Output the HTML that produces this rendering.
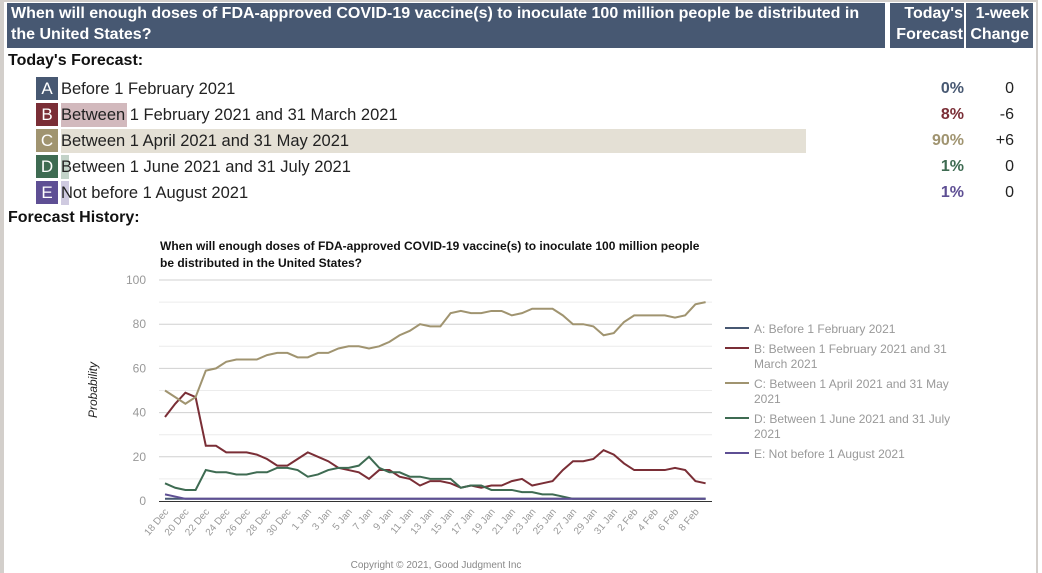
<!DOCTYPE html>
<html><head><meta charset="utf-8"><style>
body{margin:0;width:1042px;height:573px;overflow:hidden;background:#fff;font-family:"Liberation Sans",sans-serif;position:relative}
.abs{position:absolute}
.hdr{background:#475872;color:#fff;font-weight:bold;font-size:16px;line-height:21px}
.row{position:absolute;left:36px;height:24px;width:1000px}
.let{position:absolute;left:0;top:0;width:22px;height:23px;color:#fff;font-size:17px;text-align:center;line-height:23px}
.bar{position:absolute;left:25px;top:0;height:24px}
.lab{position:absolute;left:25px;top:0;font-size:16.5px;line-height:24px;color:#222;white-space:nowrap}
.pct{position:absolute;left:856px;width:72px;text-align:right;font-weight:bold;font-size:16px;line-height:24px}
.chg{position:absolute;left:940px;width:38px;text-align:right;font-size:16px;line-height:24px;color:#222}
</style></head><body>
<div class="abs" style="left:0;top:0;width:4px;height:573px;background:#d3cfcb"></div>
<div class="abs" style="left:1036px;top:0;width:2px;height:573px;background:#d3cfcb"></div>
<div class="abs" style="left:4px;top:0;width:1032px;height:2px;background:#d3cfcb"></div>
<div class="abs hdr" style="left:7px;top:3px;width:874px;height:45px;padding-left:4px">When will enough doses of FDA-approved COVID-19 vaccine(s) to inoculate 100 million people be distributed in the United States?</div>
<div class="abs hdr" style="left:890px;top:3px;width:74px;height:45px;text-align:right;padding-right:1px;box-sizing:border-box">Today's Forecast</div>
<div class="abs hdr" style="left:966px;top:3px;width:67px;height:45px;text-align:right;padding-right:4px;box-sizing:border-box">1-week Change</div>
<div class="abs" style="left:8px;top:52px;font-weight:bold;font-size:16px;color:#111">Today's Forecast:</div>

<div class="row" style="top:77px"><div class="let" style="background:#475872">A</div><div class="lab">Before 1 February 2021</div><div class="pct" style="color:#475872">0%</div><div class="chg">0</div></div>
<div class="row" style="top:103px"><div class="let" style="background:#7a2e36">B</div><div class="bar" style="width:66px;background:#d2b9bd"></div><div class="lab">Between 1 February 2021 and 31 March 2021</div><div class="pct" style="color:#7a2e36">8%</div><div class="chg">-6</div></div>
<div class="row" style="top:129px"><div class="let" style="background:#a09470">C</div><div class="bar" style="width:745px;background:#e4e0d5"></div><div class="lab">Between 1 April 2021 and 31 May 2021</div><div class="pct" style="color:#a09470">90%</div><div class="chg">+6</div></div>
<div class="row" style="top:155px"><div class="let" style="background:#3e6b52">D</div><div class="bar" style="width:8px;background:#c3d3c9"></div><div class="lab">Between 1 June 2021 and 31 July 2021</div><div class="pct" style="color:#3e6b52">1%</div><div class="chg">0</div></div>
<div class="row" style="top:181px"><div class="let" style="background:#5e4f94">E</div><div class="bar" style="width:8px;background:#cfcae0"></div><div class="lab">Not before 1 August 2021</div><div class="pct" style="color:#5e4f94">1%</div><div class="chg">0</div></div>

<div class="abs" style="left:8px;top:209px;font-weight:bold;font-size:16px;color:#111">Forecast History:</div>

<svg class="abs" style="left:0;top:0" width="1042" height="573" id="chart" font-family="Liberation Sans, Arial, sans-serif">
<text x="160" y="250" font-size="12" font-weight="bold" fill="#111">When will enough doses of FDA-approved COVID-19 vaccine(s) to inoculate 100 million people</text>
<text x="160" y="267" font-size="12" font-weight="bold" fill="#111">be distributed in the United States?</text>
<text transform="translate(97,390) rotate(-90)" text-anchor="middle" font-size="12" font-style="italic" fill="#222">Probability</text>
<text x="436" y="568" text-anchor="middle" font-size="10" fill="#888">Copyright © 2021, Good Judgment Inc</text>
<g id="grid"></g><g id="lines"></g><g id="xl"></g><g id="legend"></g>
</svg>
<script>
const seriesNames=["A: Before 1 February 2021","B: Between 1 February 2021 and 31 March 2021","C: Between 1 April 2021 and 31 May 2021","D: Between 1 June 2021 and 31 July 2021","E: Not before 1 August 2021"];
const legendLines=[["A: Before 1 February 2021"],["B: Between 1 February 2021 and 31","March 2021"],["C: Between 1 April 2021 and 31 May","2021"],["D: Between 1 June 2021 and 31 July","2021"],["E: Not before 1 August 2021"]];
const colors=["#475872","#7a2e36","#a09470","#3e6b52","#5e4f94"];
const yTicks=[0,20,40,60,80,100];
const xTickLabels=["18 Dec","20 Dec","22 Dec","24 Dec","26 Dec","28 Dec","30 Dec","1 Jan","3 Jan","5 Jan","7 Jan","9 Jan","11 Jan","13 Jan","15 Jan","17 Jan","19 Jan","21 Jan","23 Jan","25 Jan","27 Jan","29 Jan","31 Jan","2 Feb","4 Feb","6 Feb","8 Feb"];
const seriesA=[1,1,1,1,1,1,1,1,1,1,1,1,1,1,1,1,1,1,1,1,1,1,1,1,1,1,1,1,1,1,1,1,1,1,1,1,1,1,1,1,1,1,1,1,1,1,1,1,1,1,1,1,1,1];
const seriesB=[38,44,49,47,25,25,22,22,22,21,19,16,16,19,22,20,18,15,14,13,10,14,14,11,10,7,9,9,8,6,7,6,7,7,9,10,7,8,9,14,18,18,19,23,21,17,14,14,14,14,15,14,9,8];
const seriesC=[50,47,44,47,59,60,63,64,64,64,66,67,67,65,65,67,67,69,70,70,69,70,72,75,77,80,79,79,85,86,85,85,86,86,84,85,87,87,87,84,80,80,79,75,76,81,84,84,84,84,83,84,89,90];
const seriesD=[8,6,5,5,14,13,13,12,12,13,13,15,15,14,11,12,14,15,15,16,20,15,13,13,11,11,10,10,10,6,7,7,5,5,5,4,4,3,3,2,1,1,1,1,1,1,1,1,1,1,1,1,1,1];
const seriesE=[3,2,1,1,1,1,1,1,1,1,1,1,1,1,1,1,1,1,1,1,1,1,1,1,1,1,1,1,1,1,1,1,1,1,1,1,1,1,1,1,1,1,1,1,1,1,1,1,1,1,1,1,1,1];
const allSeries=[seriesA,seriesB,seriesC,seriesD,seriesE];
const NS="http://www.w3.org/2000/svg";
const x0=165,dx=10.2,yb=501,yt=280,plotL=159,plotR=712;
const xs=i=>x0+i*dx, ys=v=>yb-(v/100)*(yb-yt);
function mk(tag,attrs,parent){const e=document.createElementNS(NS,tag);for(const k in attrs)e.setAttribute(k,attrs[k]);parent.appendChild(e);return e;}
const grid=document.getElementById('grid');
for(let v=10;v<=100;v+=10){const l=mk('line',{x1:plotL,x2:plotR,y1:ys(v),y2:ys(v),stroke:v%20?'#ececec':'#d0d0d0','stroke-width':1},grid);

}
yTicks.forEach(v=>{const t=mk('text',{x:146,y:ys(v)+4,'text-anchor':'end','font-size':12,fill:'#999'},grid);t.textContent=v;

});
const base=mk('line',{x1:plotL,x2:plotR,y1:yb+0.5,y2:yb+0.5,stroke:'#333','stroke-width':1},grid);


const lines=document.getElementById('lines');
allSeries.forEach((s,k)=>{const p=mk('polyline',{points:s.map((v,i)=>xs(i)+','+ys(v)).join(' '),fill:'none',stroke:colors[k],'stroke-width':2},lines);

});
const xl=document.getElementById('xl');
xTickLabels.forEach((lab,i)=>{const x=xs(i*2);const t=mk('text',{transform:`translate(${x+4},${yb+11}) rotate(-50)`,'text-anchor':'end','font-size':10,fill:'#999'},xl);t.textContent=lab;

});
const lg=document.getElementById('legend');
const ly=[328,348,383,418,453];
legendLines.forEach((ls,k)=>{const g=mk('g',{},lg);


mk('line',{x1:725,x2:749,y1:ly[k],y2:ly[k],stroke:colors[k],'stroke-width':2},g);
ls.forEach((s,j)=>{const t=mk('text',{x:754,y:ly[k]+5+j*15,'font-size':12,fill:'#999'},g);t.textContent=s;});});
</script>
</body></html>
